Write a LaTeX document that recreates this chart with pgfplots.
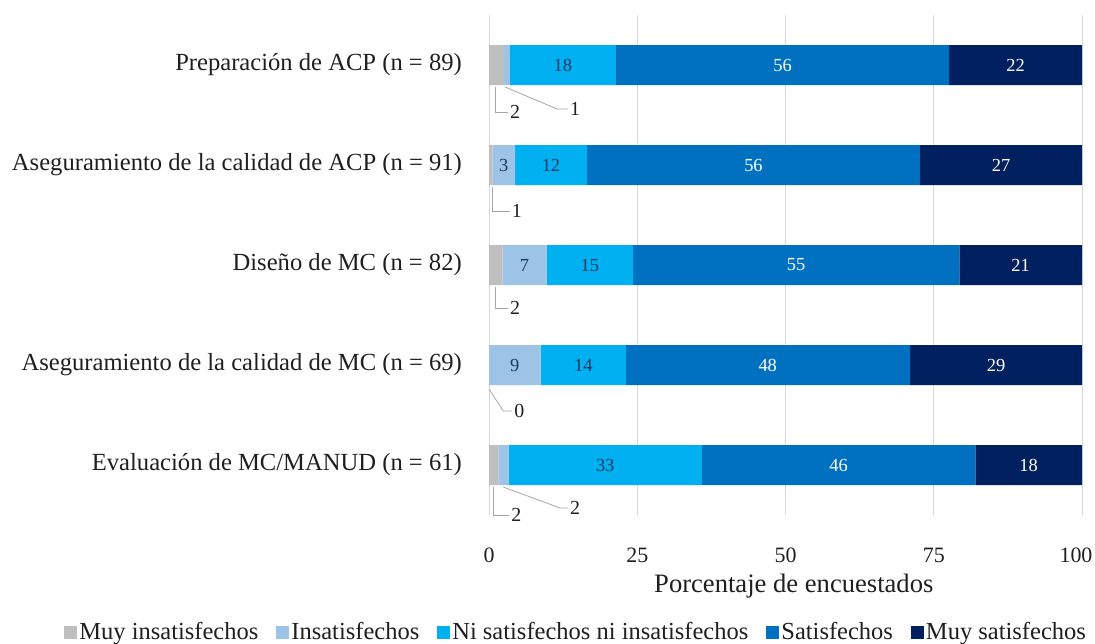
\documentclass[border=0pt]{standalone}
\usepackage{fontspec}
\setmainfont{Liberation Serif}
\usepackage{pgfplots}
\pgfplotsset{compat=1.18}
\definecolor{cMI}{HTML}{BFBFBF}
\definecolor{cI}{HTML}{9DC3E6}
\definecolor{cN}{HTML}{00B0F0}
\definecolor{cS}{HTML}{0070C0}
\definecolor{cMS}{HTML}{002060}
\definecolor{cDark}{HTML}{1F3864}
\definecolor{cGrid}{HTML}{D9D9D9}
\definecolor{cLead}{HTML}{A6A6A6}
\begin{document}
\begin{tikzpicture}
\useasboundingbox (0,0) rectangle (1095bp,-644bp);
\pgfplotsset{
  common/.style={
    at={(489bp,-515bp)}, anchor=south west,
    scale only axis, width=593bp, height=500bp,
    xmin=0, xmax=100, ymin=0.5, ymax=5.5,
    y dir=reverse, clip=false,
  }
}
\begin{axis}[common,
  xbar stacked, bar width=40bp,
  enlarge y limits=false, enlarge x limits=false,
  axis line style={draw=none},
  major tick length=0pt,
  xtick={0,25,50,75,100},
  xticklabels={0,25,50,75,{\hspace*{-12bp}100}},
  xmajorgrids, grid style={cGrid, line width=0.8bp},
  ytick={1,2,3,4,5},
  yticklabels={Preparación de ACP (n = 89),
    Aseguramiento de la calidad de ACP (n = 91),
    Diseño de MC (n = 82),
    Aseguramiento de la calidad de MC (n = 69),
    Evaluación de MC/MANUD (n = 61)},
  yticklabel style={font=\fontsize{24.7}{29}\selectfont, inner sep=0pt, anchor=east, xshift=-27bp, text=black!88},
  xticklabel style={font=\fontsize{22}{25}\selectfont, inner sep=0pt, anchor=north, yshift=-33bp, text=black!88},
  /pgf/number format/assume math mode=true,
  xlabel={Porcentaje de encuestados},
  xlabel style={at={(axis description cs:0.514,-0.142)}, anchor=center, font=\fontsize{26.7}{30}\selectfont, text=black!88},
  legend style={at={(axis description cs:0.147,-0.234)}, anchor=center, draw=none,
    font=\fontsize{24.6}{28}\selectfont, text=black!88, inner sep=0pt,
    /tikz/every odd column/.append style={column sep=0bp},
    /tikz/every even column/.append style={column sep=16bp}},
  legend columns=-1,
  legend image code/.code={\fill[#1] (0bp,-6.5bp) rectangle (13bp,6.5bp);},
]
\addplot[fill=cMI, draw=none] coordinates {(2.5,1) (0.6,2) (2.3,3) (0,4) (1.6,5)};
\addlegendentry{Muy insatisfechos}
\addplot[fill=cI, draw=none] coordinates {(1.0,1) (3.8,2) (7.4,3) (8.7,4) (1.7,5)};
\addlegendentry{Insatisfechos}
\addplot[fill=cN, draw=none] coordinates {(17.9,1) (12.1,2) (14.6,3) (14.4,4) (32.6,5)};
\addlegendentry{Ni satisfechos ni insatisfechos}
\addplot[fill=cS, draw=none] coordinates {(56.2,1) (56.2,2) (55.0,3) (47.9,4) (46.1,5)};
\addlegendentry{Satisfechos}
\addplot[fill=cMS, draw=none] coordinates {(22.4,1) (27.3,2) (20.7,3) (29.0,4) (18.0,5)};
\addlegendentry{Muy satisfechos}
\end{axis}
\begin{axis}[common, hide axis]
% labels inside bars, dark text
\addplot[only marks, mark=none, nodes near coords, point meta=explicit symbolic,
  nodes near coords style={anchor=center, text=cDark, font=\fontsize{18.5}{21}\selectfont}]
  table[meta=l] {
x y l
12.45 1 18
2.5 2 3
10.45 2 12
6.0 3 7
17.0 3 15
4.35 4 9
15.9 4 14
19.6 5 33
};
% labels inside bars, white text
\addplot[only marks, mark=none, nodes near coords, point meta=explicit symbolic,
  nodes near coords style={anchor=center, text=white, font=\fontsize{18.5}{21}\selectfont}]
  table[meta=l] {
x y l
49.5 1 56
88.8 1 22
44.6 2 56
86.35 2 27
51.8 3 55
89.65 3 21
47.0 4 48
85.5 4 29
58.95 5 46
91.0 5 18
};
% leader lines
\addplot[cLead, line width=0.8bp, no marks] coordinates {(1.0,1.22) (1.0,1.47) (3.2,1.47)};
\addplot[cLead, line width=0.8bp, no marks] coordinates {(2.7,1.22) (11.5,1.44) (13.3,1.44)};
\addplot[cLead, line width=0.8bp, no marks] coordinates {(0.5,2.22) (0.5,2.46) (3.5,2.46)};
\addplot[cLead, line width=0.8bp, no marks] coordinates {(1.0,3.22) (1.0,3.43) (3.2,3.43)};
\addplot[cLead, line width=0.8bp, no marks] coordinates {(0.0,4.24) (2.4,4.46) (3.9,4.46)};
\addplot[cLead, line width=0.8bp, no marks] coordinates {(0.7,5.22) (0.7,5.50) (3.4,5.50)};
\addplot[cLead, line width=0.8bp, no marks] coordinates {(2.4,5.22) (12.0,5.43) (13.3,5.43)};
% leader labels
\addplot[only marks, mark=none, nodes near coords, point meta=explicit symbolic,
  nodes near coords style={anchor=west, inner sep=2bp, text=black!88, font=\fontsize{20}{23}\selectfont}]
  table[meta=l] {
x y l
3.2 1.47 2
13.3 1.44 1
3.5 2.46 1
3.2 3.43 2
3.9 4.46 0
3.4 5.50 2
13.3 5.43 2
};
\end{axis}
\end{tikzpicture}
\end{document}
